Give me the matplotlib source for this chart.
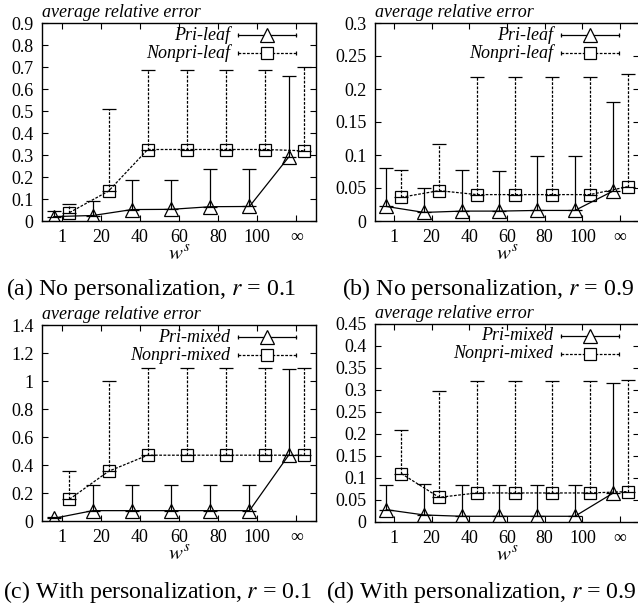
import numpy as np
import matplotlib
matplotlib.use('Agg')
import matplotlib.pyplot as plt
from matplotlib.ticker import FormatStrFormatter

plt.rcParams['font.family'] = ['Liberation Serif', 'DejaVu Serif']
plt.rcParams['mathtext.fontset'] = 'stix'

ws_labels = ['1', '20', '40', '60', '80', '100', '\u221e']

# (a) no personalization, r = 0.1
a_pri = [0.02, 0.025, 0.052, 0.053, 0.065, 0.066, 0.29]
a_pri_max = [0.045, 0.092, 0.185, 0.187, 0.235, 0.235, 0.658]
a_non = [0.038, 0.136, 0.325, 0.325, 0.325, 0.325, 0.319]
a_non_max = [0.076, 0.508, 0.688, 0.688, 0.688, 0.688, 0.70]

# (b) no personalization, r = 0.9
b_pri = [0.022, 0.013, 0.015, 0.015, 0.016, 0.016, 0.045]
b_pri_max = [0.080, 0.050, 0.077, 0.076, 0.099, 0.099, 0.181]
b_non = [0.036, 0.046, 0.040, 0.040, 0.040, 0.040, 0.052]
b_non_max = [0.078, 0.117, 0.218, 0.218, 0.218, 0.218, 0.223]

# (c) with personalization, r = 0.1
c_pri = [0.019, 0.074, 0.074, 0.074, 0.074, 0.074, 0.47]
c_pri_max = [0.03, 0.257, 0.257, 0.257, 0.257, 0.257, 1.085]
c_non = [0.155, 0.355, 0.47, 0.47, 0.47, 0.47, 0.47]
c_non_max = [0.357, 1.0, 1.095, 1.095, 1.095, 1.095, 1.095]

# (d) with personalization, r = 0.9
d_pri = [0.028, 0.016, 0.013, 0.013, 0.013, 0.013, 0.065]
d_pri_max = [0.084, 0.086, 0.083, 0.083, 0.083, 0.083, 0.315]
d_non = [0.110, 0.056, 0.066, 0.066, 0.066, 0.066, 0.069]
d_non_max = [0.21, 0.298, 0.32, 0.32, 0.32, 0.32, 0.322]

W, H = 638, 604
fig = plt.figure(figsize=(W / 100, H / 100), dpi=100)

DASH = (0, (2.2, 1.2))
FS = 13  # tick / legend text size


def key(ax, w, h, row, name, ls, marker, ms):
    # gnuplot style key: right aligned text, then line sample with marker
    y = 1 - (12 + 18 * row) / h
    ax.text(1 - 86 / w, y, name, transform=ax.transAxes, fontsize=FS,
            style='italic', ha='right', va='center')
    x0, x1 = 1 - 78 / w, 1 - 20 / w
    ax.plot([x0, x1], [y, y], transform=ax.transAxes, color='black', lw=0.9,
            ls=ls, clip_on=False)
    ax.plot([x0, x1], [y, y], transform=ax.transAxes, ls='none', marker='|',
            ms=3, mew=0.9, color='black', clip_on=False)
    ax.plot([(x0 + x1) / 2], [y], transform=ax.transAxes, ls='none',
            marker=marker, ms=ms, mfc='white', mec='black', mew=0.9,
            clip_on=False)


def panel(rect, pri, pri_max, non, non_max, names, ymax, ystep, caption, cap_xy):
    left, top, w, h = rect
    ax = fig.add_axes([left / W, 1 - (top + h) / H, w / W, h / H])
    x = np.arange(1, len(ws_labels) + 1)
    xp = x - 0.2
    xn = x + 0.2
    pri = np.array(pri)
    non = np.array(non)
    up_p = np.array(pri_max) - pri
    up_n = np.array(non_max) - non

    ax.errorbar(xp, pri, yerr=[np.zeros_like(pri), up_p], fmt='none',
                ecolor='black', elinewidth=0.9, capsize=4.8, capthick=0.9)
    eb2 = ax.errorbar(xn, non, yerr=[np.zeros_like(non), up_n], fmt='none',
                      ecolor='black', elinewidth=0.9, capsize=4.8, capthick=0.9)
    for col in eb2.lines[2]:
        col.set_linestyle(DASH)

    ax.plot(xp, pri, color='black', lw=0.9, marker='^', ms=10, mfc='none',
            mec='black', mew=0.9)
    ax.plot(xn, non, color='black', lw=0.9, ls=DASH, marker='s', ms=9,
            mfc='none', mec='black', mew=0.9)

    ax.set_xlim(0.5, len(ws_labels) + 0.5)
    ax.set_ylim(0, ymax)
    ax.set_xticks(x)
    ax.set_xticklabels(ws_labels)
    ax.set_yticks(np.arange(0, ymax + ystep / 2, ystep))
    ax.yaxis.set_major_formatter(FormatStrFormatter('%g'))
    ax.tick_params(direction='in', length=4, width=0.8, labelsize=FS,
                   top=True, right=True, pad=6)
    for s in ax.spines.values():
        s.set_linewidth(1.0)

    ax.set_xlabel('$w^s$', fontsize=15)
    ax.xaxis.set_label_coords(0.5, -0.125)
    ax.text(0.0, 1 + 6 / h, 'average relative error', transform=ax.transAxes,
            fontsize=FS, style='italic', ha='left', va='baseline')

    key(ax, w, h, 0, names[0], '-', '^', 10)
    key(ax, w, h, 1, names[1], DASH, 's', 9)

    fig.text(cap_xy[0] / W, 1 - cap_xy[1] / H, caption, fontsize=17.2,
             ha='left', va='baseline')
    return ax


panel((42, 23, 274, 198), a_pri, a_pri_max, a_non, a_non_max,
      ['Pri-leaf', 'Nonpri-leaf'], 0.9, 0.1,
      '(a) No personalization, $r$ = 0.1', (6, 295))
panel((375, 23, 264, 198), b_pri, b_pri_max, b_non, b_non_max,
      ['Pri-leaf', 'Nonpri-leaf'], 0.3, 0.05,
      '(b) No personalization, $r$ = 0.9', (342, 295))
panel((42, 325, 274, 196), c_pri, c_pri_max, c_non, c_non_max,
      ['Pri-mixed', 'Nonpri-mixed'], 1.4, 0.2,
      '(c) With personalization, $r$ = 0.1', (3, 598))
panel((375, 324, 264, 198), d_pri, d_pri_max, d_non, d_non_max,
      ['Pri-mixed', 'Nonpri-mixed'], 0.45, 0.05,
      '(d) With personalization, $r$ = 0.9', (326, 598))

fig.savefig('out.png', dpi=100)
